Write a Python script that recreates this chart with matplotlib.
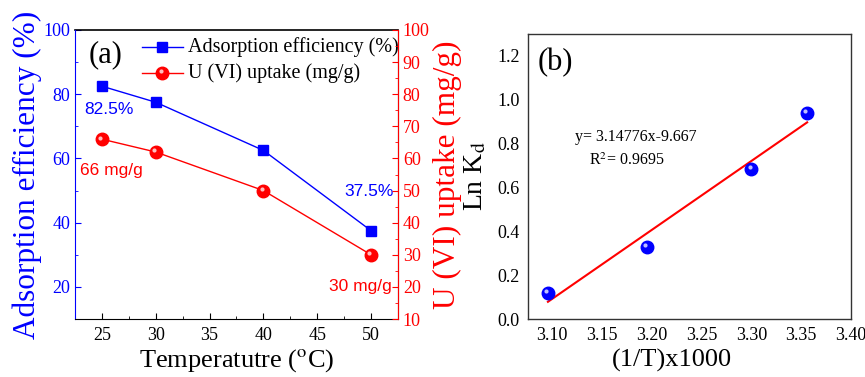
"""Adsorption vs temperature (a) and van't Hoff plot (b)."""

import matplotlib

matplotlib.use("Agg")
import matplotlib.pyplot as plt  # noqa: E402
import matplotlib.transforms as mtransforms  # noqa: E402
from matplotlib.ticker import MultipleLocator  # noqa: E402
import numpy as np  # noqa: E402

# panel (a)
temperature = [25, 30, 40, 50]
efficiency = [82.5, 77.5, 62.5, 37.5]
uptake = [66, 62, 50, 30]

# panel (b)
inv_t = [3.096, 3.195, 3.300, 3.356]
ln_kd = [0.118, 0.330, 0.685, 0.940]
fit_slope = 3.14776
fit_intercept = -9.667

BLUE = "#0000FF"
RED = "#FF0000"
SERIF = "Liberation Serif"
SANS = "Liberation Sans"

plt.rcParams.update({"font.family": SERIF, "mathtext.fontset": "stix"})


def sphere(ax, x, y, color, size, highlight_size):
    ax.plot(x, y, "o", ms=size, color=color, mec=color, zorder=4)
    hl = mtransforms.offset_copy(ax.transData, fig=ax.figure, x=-1.2, y=1.2, units="points")
    ax.plot(x, y, "o", ms=highlight_size, color="white", alpha=0.75, mec="none",
            transform=hl, zorder=5)


fig = plt.figure(figsize=(8.65, 3.77), dpi=100)

# ---------- panel (a)
ax = fig.add_axes([75 / 865, 1 - 319 / 377, 323 / 865, 289 / 377])
ax2 = ax.twinx()

ax.plot(temperature, efficiency, "-s", color=BLUE, lw=1.0, ms=7.5, zorder=3,
        label="Adsorption efficiency (%)")
ax2.plot(temperature, uptake, "-", color=RED, lw=1.0, zorder=3)
sphere(ax2, temperature, uptake, RED, 9, 3)

ax.set_xlim(22.5, 52.5)
ax.set_ylim(10, 100)
ax2.set_ylim(10, 100)
ax.xaxis.set_major_locator(MultipleLocator(5))
ax.xaxis.set_minor_locator(MultipleLocator(2.5))
ax.yaxis.set_major_locator(MultipleLocator(20))
ax.yaxis.set_minor_locator(MultipleLocator(10))
ax2.yaxis.set_major_locator(MultipleLocator(10))
ax2.yaxis.set_minor_locator(MultipleLocator(5))

ax.tick_params(axis="x", which="both", direction="in", labelsize=13, pad=6)
ax.tick_params(axis="x", which="major", length=4)
ax.tick_params(axis="x", which="minor", length=2.5)
ax.tick_params(axis="y", which="both", direction="in", colors=BLUE, labelsize=13)
ax.tick_params(axis="y", which="major", length=4)
ax.tick_params(axis="y", which="minor", length=2.5)
ax2.tick_params(axis="y", which="both", direction="in", colors=RED, labelsize=13)
ax2.tick_params(axis="y", which="major", length=4)
ax2.tick_params(axis="y", which="minor", length=2.5)

ax.spines["left"].set_color(BLUE)
ax2.spines["left"].set_visible(False)
ax2.spines["right"].set_color(RED)
for a in (ax, ax2):
    a.spines["top"].set_visible(False)
ax2.spines["bottom"].set_visible(False)
ax.plot([0, 1], [1, 1], color="black", lw=1.2, transform=ax.transAxes, clip_on=False)

ax.set_ylabel("Adsorption efficiency (%)", color=BLUE, fontsize=22.5, labelpad=1)
ax2.set_ylabel("U (VI) uptake (mg/g)", color=RED, fontsize=22.5, labelpad=2)
ax.set_xlabel("Temperatutre ($^{\\mathrm{o}}$C)", fontsize=19)
ax.xaxis.set_label_coords(0.5, -0.098)

ax.text(0.043, 0.913, "(a)", transform=ax.transAxes, fontsize=22, va="center")

ax.text(25.65, 75.1, "82.5%", color=BLUE, fontsize=12.5, family=SANS,
        ha="center", va="center")
ax.text(49.8, 49.6, "37.5%", color=BLUE, fontsize=12.5, family=SANS,
        ha="center", va="center")
ax2.text(25.9, 56.1, "66 mg/g", color=RED, fontsize=12.5, family=SANS,
         ha="center", va="center")
ax2.text(49.0, 20.0, "30 mg/g", color=RED, fontsize=12.5, family=SANS,
         ha="center", va="center")

# legend drawn manually to mimic the origin-style layout
lx0, lx1 = 0.207, 0.334
for yy, col, lab, mk in ((0.941, BLUE, "Adsorption efficiency (%)", "s"),
                         (0.851, RED, "U (VI) uptake (mg/g)", "o")):
    ax.plot([lx0, lx1], [yy, yy], color=col, lw=1.0, transform=ax.transAxes, clip_on=False)
    if mk == "s":
        ax.plot([(lx0 + lx1) / 2], [yy], "s", color=col, ms=7.5,
                transform=ax.transAxes, clip_on=False, zorder=6)
    else:
        ax.plot([(lx0 + lx1) / 2], [yy], "o", color=col, ms=9,
                transform=ax.transAxes, clip_on=False, zorder=6)
        hl = mtransforms.offset_copy(ax.transAxes, fig=fig, x=-1.2, y=1.2, units="points")
        ax.plot([(lx0 + lx1) / 2], [yy], "o", color="white", alpha=0.75, ms=3, mec="none",
                transform=hl, clip_on=False, zorder=7)
    ax.text(lx1 + 0.015, yy, lab, transform=ax.transAxes, fontsize=14.5, va="center")

# ---------- panel (b)
bx = fig.add_axes([528 / 865, 1 - 319 / 377, 323 / 865, 285 / 377])
fit_x = np.array([inv_t[0], inv_t[-1]])
bx.plot(fit_x, fit_slope * fit_x + fit_intercept, color=RED, lw=1.5, zorder=3)
sphere(bx, inv_t, ln_kd, BLUE, 9, 3)

bx.set_xlim(3.076, 3.40)
bx.set_ylim(0, 1.3)
bx.set_xticks([3.10, 3.15, 3.20, 3.25, 3.30, 3.35, 3.40])
bx.set_xticklabels(["3.10", "3.15", "3.20", "3.25", "3.30", "3.35", "3.40"])
bx.set_yticks([0.0, 0.2, 0.4, 0.6, 0.8, 1.0, 1.2])
bx.set_yticklabels(["0.0", "0.2", "0.4", "0.6", "0.8", "1.0", "1.2"])
bx.tick_params(length=0, labelsize=13, pad=6)
for sp in bx.spines.values():
    sp.set_color("#333333")
    sp.set_linewidth(1.0)

bx.set_ylabel("Ln K$_{\\mathrm{d}}$", fontsize=20, labelpad=6)
bx.set_xlabel("(1/T)x1000", fontsize=19)
bx.xaxis.set_label_coords(0.446, -0.105)
bx.text(0.031, 0.898, "(b)", transform=bx.transAxes, fontsize=22, va="center")
bx.text(0.334, 0.639, "y= 3.14776x-9.667", transform=bx.transAxes, fontsize=11.5,
        ha="center", va="center")
bx.text(0.307, 0.554, "R$^{2}$= 0.9695", transform=bx.transAxes, fontsize=11.5,
        ha="center", va="center")

fig.savefig("out.png", dpi=100)
